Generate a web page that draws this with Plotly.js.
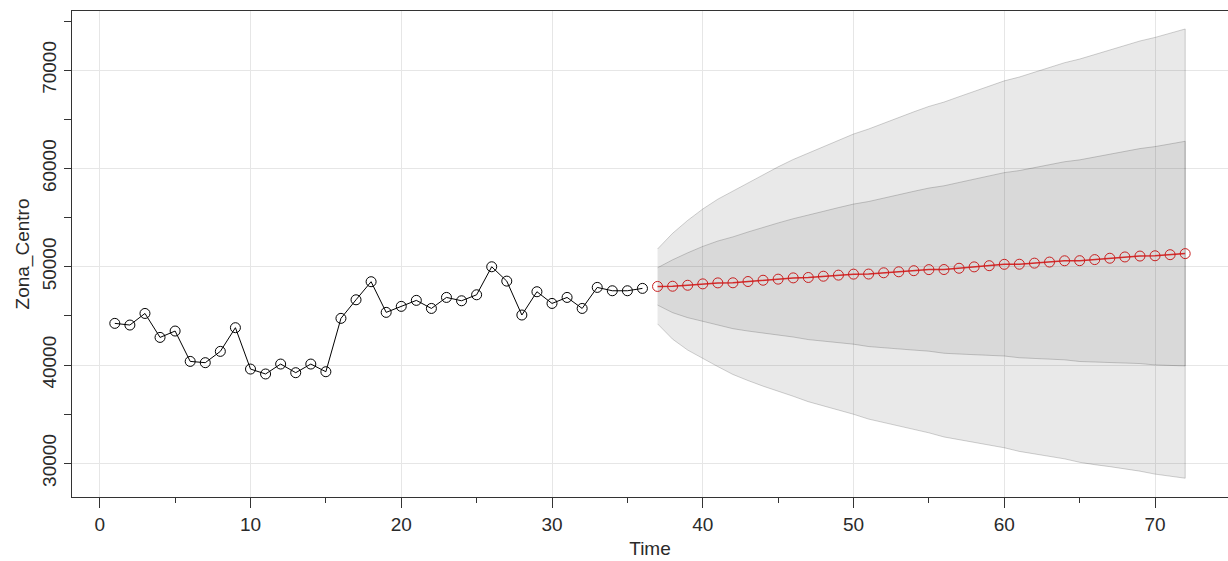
<!DOCTYPE html>
<html>
<head>
<meta charset="utf-8">
<script src="https://cdn.plot.ly/plotly-3.0.1.min.js"></script>
<style>html,body{margin:0;padding:0;background:#fff;}#chart{width:1228px;height:561px;}</style>
</head>
<body>
<div id="chart"></div>
<script>
// Observed series (Time 1..36)
const obsTime = [1,2,3,4,5,6,7,8,9,10,11,12,13,14,15,16,17,18,19,20,21,22,23,24,25,26,27,28,29,30,31,32,33,34,35,36];
const obsValue = [44240,44070,45250,42810,43460,40370,40240,41390,43800,39590,39090,40100,39220,40100,39320,44750,46640,48480,
                  45360,45970,46580,45760,46880,46540,47150,50000,48540,45090,47460,46270,46880,45760,47900,47560,47560,47800];

// Forecast (Time 37..72)
const fcTime = [37,38,39,40,41,42,43,44,45,46,47,48,49,50,51,52,53,54,55,56,57,58,59,60,61,62,63,64,65,66,67,68,69,70,71,72];
const fcMean = [48000,48020,48120,48260,48360,48370,48500,48630,48740,48870,48910,49040,49150,49250,49260,49390,49490,49600,
                49710,49720,49850,49990,50110,50250,50260,50370,50480,50610,50620,50730,50870,51000,51090,51120,51230,51340];
const hi95 = [51810,53410,54720,55880,56880,57700,58580,59410,60170,60920,61550,62240,62890,63510,64020,64630,65200,65770,
              66320,66760,67310,67860,68380,68920,69310,69800,70280,70770,71140,71600,72080,72550,72980,73340,73770,74200];
const lo95 = [44190,42630,41520,40640,39840,39040,38420,37850,37310,36820,36270,35840,35410,34990,34500,34150,33780,33430,
              33100,32680,32390,32120,31840,31580,31210,30940,30680,30450,30100,29860,29660,29450,29200,28900,28690,28480];
const hi80 = [49900,50710,51420,52070,52620,53040,53540,54020,54460,54890,55230,55640,56020,56380,56640,57010,57350,57680,
              58010,58240,58580,58930,59250,59580,59790,60080,60380,60690,60880,61160,61480,61780,62030,62230,62500,62770];
const lo80 = [46100,45330,44820,44450,44100,43700,43460,43240,43030,42850,42590,42440,42280,42120,41880,41770,41630,41520,
              41410,41200,41120,41050,40970,40920,40740,40660,40580,40530,40360,40300,40260,40220,40150,40010,39960,39910];

const xTickVals = [0,10,20,30,40,50,60,70];
const xTickText = ['0','10','20','30','40','50','60','70'];
const yTickVals = [30000,40000,50000,60000,70000];
const yTickText = ['30000','40000','50000','60000','70000'];

function band(hi, lo, fill) {
  return {
    x: fcTime.concat(fcTime.slice().reverse()),
    y: hi.concat(lo.slice().reverse()),
    type: 'scatter', mode: 'lines', fill: 'toself',
    fillcolor: fill,
    line: {color: 'rgba(0,0,0,0.18)', width: 1},
    hoverinfo: 'skip', showlegend: false
  };
}

const traces = [
  band(hi95, lo95, 'rgba(0,0,0,0.086)'),
  band(hi80, lo80, 'rgba(0,0,0,0.066)'),
  {
    x: obsTime, y: obsValue, type: 'scatter', mode: 'lines+markers',
    line: {color: '#000', width: 1},
    marker: {symbol: 'circle-open', size: 10, color: '#000', line: {width: 1, color: '#000'}},
    showlegend: false
  },
  {
    x: fcTime, y: fcMean, type: 'scatter', mode: 'lines+markers',
    line: {color: '#d42a2a', width: 1.5},
    marker: {symbol: 'circle-open', size: 10, color: '#c82020', line: {width: 1, color: '#c82020'}},
    showlegend: false
  }
];

const tickFont = {family: '"Liberation Sans", Arial, sans-serif', size: 19, color: '#2a2a2a'};
const titleFont = {family: '"Liberation Sans", Arial, sans-serif', size: 19, color: '#2a2a2a'};

const layout = {
  width: 1228, height: 561,
  margin: {l: 72, r: 0, t: 11, b: 64},
  paper_bgcolor: '#fff', plot_bgcolor: '#fff',
  font: tickFont,
  showlegend: false,
  xaxis: {
    range: [-1.84, 74.84],
    tickmode: 'array', tickvals: xTickVals, ticktext: xTickText,
    ticks: 'outside', ticklen: 10, tickwidth: 1, tickcolor: '#333',
    showgrid: true, gridcolor: '#e6e6e6', gridwidth: 1,
    zeroline: false,
    showline: true, linecolor: '#333', linewidth: 1, mirror: true,
    minor: {dtick: 5, tick0: 0, ticks: 'outside', ticklen: 5, tickcolor: '#333', showgrid: false},
    tickfont: tickFont,
    title: {text: 'Time', font: titleFont, standoff: 7}
  },
  yaxis: {
    range: [26570, 76030],
    tickmode: 'array', tickvals: yTickVals, ticktext: yTickText,
    tickangle: -90,
    ticks: 'outside', ticklen: 7, tickwidth: 1, tickcolor: '#333',
    showgrid: true, gridcolor: '#e6e6e6', gridwidth: 1,
    zeroline: false,
    showline: true, linecolor: '#333', linewidth: 1, mirror: false,
    minor: {dtick: 5000, tick0: 0, ticks: 'outside', ticklen: 7, tickcolor: '#333', showgrid: false},
    tickfont: tickFont,
    title: {text: 'Zona_Centro', font: titleFont, standoff: 4}
  }
};

Plotly.newPlot('chart', traces, layout, {displayModeBar: false, staticPlot: true});
</script>
</body>
</html>
